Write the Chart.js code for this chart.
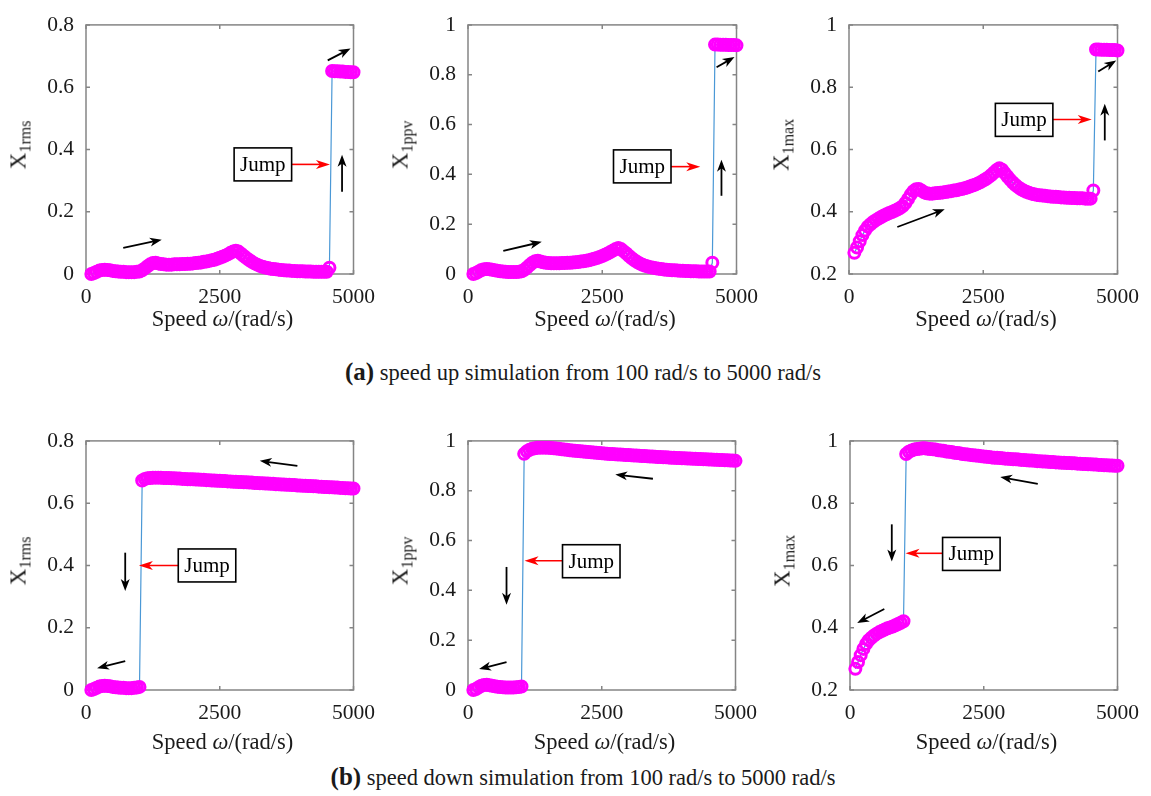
<!DOCTYPE html>
<html>
<head>
<meta charset="utf-8">
<script src="https://cdn.jsdelivr.net/npm/chart.js@4.4.0/dist/chart.umd.min.js"></script>
<style>
  html, body { margin: 0; background: #fff; }
  #fig { position: relative; width: 1151px; height: 796px; overflow: hidden;
         font-family: "Liberation Serif", "DejaVu Serif", "Noto Serif", Times, serif; color: #1a1a1a; }
  #fig canvas { position: absolute; }
  .ylab { position: absolute; font-size: 23px; line-height: 1; white-space: nowrap;
          transform: translate(-50%, -50%) rotate(-90deg); }
  .ylab sub { font-size: 16px; vertical-align: -5px; }
  .xlab { position: absolute; font-size: 22.5px; line-height: 1; white-space: nowrap;
          transform: translate(-50%, -50%); }
  .caption { position: absolute; left: 583px; font-size: 22.5px; line-height: 1; white-space: nowrap;
             transform: translate(-50%, -50%); }
  .caption b { font-size: 25px; }
</style>
</head>
<body>
<div id="fig">
  <div class="caption" style="top:372px"><b>(a)</b> speed up simulation from 100 rad/s to 5000 rad/s</div>
  <div class="caption" style="top:777px"><b>(b)</b> speed down simulation from 100 rad/s to 5000 rad/s</div>
</div>
<script>
// sweep speeds (rad/s)
const speeds = [
  100, 150, 200, 250, 300, 350, 400, 450, 500, 550,
  600, 650, 700, 750, 800, 850, 900, 950, 1000, 1050,
  1100, 1150, 1200, 1250, 1300, 1350, 1400, 1450, 1500, 1550,
  1600, 1650, 1700, 1750, 1800, 1850, 1900, 1950, 2000, 2050,
  2100, 2150, 2200, 2250, 2300, 2350, 2400, 2450, 2500, 2550,
  2600, 2650, 2700, 2750, 2800, 2850, 2900, 2950, 3000, 3050,
  3100, 3150, 3200, 3250, 3300, 3350, 3400, 3450, 3500, 3550,
  3600, 3650, 3700, 3750, 3800, 3850, 3900, 3950, 4000, 4050,
  4100, 4150, 4200, 4250, 4300, 4350, 4400, 4450, 4500, 4550,
  4600, 4650, 4700, 4750, 4800, 4850, 4900, 4950, 5000
];

// speed up
const rmsUp = [
  0.000, 0.003, 0.007, 0.011, 0.013, 0.014, 0.013, 0.012, 0.010, 0.009,
  0.008, 0.007, 0.007, 0.006, 0.006, 0.006, 0.006, 0.007, 0.008, 0.012,
  0.018, 0.025, 0.031, 0.035, 0.036, 0.034, 0.032, 0.031, 0.030, 0.030,
  0.030, 0.031, 0.031, 0.031, 0.032, 0.032, 0.033, 0.033, 0.034, 0.035,
  0.036, 0.037, 0.039, 0.040, 0.042, 0.044, 0.046, 0.049, 0.052, 0.055,
  0.059, 0.063, 0.068, 0.072, 0.075, 0.072, 0.065, 0.058, 0.051, 0.045,
  0.039, 0.034, 0.030, 0.026, 0.023, 0.021, 0.019, 0.017, 0.016, 0.015,
  0.014, 0.013, 0.012, 0.011, 0.011, 0.010, 0.010, 0.009, 0.009, 0.009,
  0.008, 0.008, 0.008, 0.007, 0.007, 0.007, 0.007, 0.007, 0.007, 0.020,
  0.652, 0.651, 0.651, 0.650, 0.650, 0.649, 0.649, 0.648, 0.648
];
const ppvUp = [
  0.000, 0.004, 0.010, 0.016, 0.019, 0.020, 0.019, 0.017, 0.015, 0.013,
  0.011, 0.010, 0.009, 0.008, 0.008, 0.008, 0.008, 0.009, 0.011, 0.017,
  0.026, 0.036, 0.045, 0.051, 0.053, 0.050, 0.047, 0.045, 0.044, 0.043,
  0.043, 0.043, 0.043, 0.044, 0.044, 0.045, 0.045, 0.046, 0.047, 0.048,
  0.050, 0.051, 0.053, 0.055, 0.058, 0.061, 0.064, 0.068, 0.072, 0.077,
  0.082, 0.088, 0.094, 0.100, 0.104, 0.100, 0.091, 0.082, 0.072, 0.063,
  0.055, 0.048, 0.042, 0.037, 0.033, 0.030, 0.027, 0.025, 0.023, 0.021,
  0.020, 0.018, 0.017, 0.016, 0.015, 0.015, 0.014, 0.013, 0.013, 0.012,
  0.012, 0.011, 0.011, 0.011, 0.010, 0.010, 0.010, 0.010, 0.010, 0.045,
  0.921, 0.921, 0.920, 0.920, 0.920, 0.919, 0.919, 0.919, 0.918
];
const maxUp = [
  0.268, 0.285, 0.305, 0.325, 0.340, 0.352, 0.360, 0.367, 0.373, 0.378,
  0.383, 0.388, 0.392, 0.396, 0.399, 0.403, 0.407, 0.412, 0.418, 0.428,
  0.441, 0.455, 0.466, 0.472, 0.473, 0.468, 0.462, 0.459, 0.458, 0.458,
  0.459, 0.460, 0.461, 0.462, 0.463, 0.465, 0.466, 0.468, 0.469, 0.471,
  0.473, 0.475, 0.478, 0.481, 0.484, 0.487, 0.491, 0.495, 0.500, 0.505,
  0.511, 0.518, 0.526, 0.534, 0.540, 0.535, 0.524, 0.513, 0.503, 0.494,
  0.486, 0.479, 0.473, 0.468, 0.464, 0.461, 0.458, 0.456, 0.454, 0.453,
  0.452, 0.451, 0.450, 0.449, 0.448, 0.448, 0.447, 0.446, 0.446, 0.445,
  0.445, 0.444, 0.444, 0.443, 0.443, 0.443, 0.442, 0.442, 0.442, 0.468,
  0.921, 0.921, 0.920, 0.920, 0.920, 0.919, 0.919, 0.919, 0.918
];

// speed down
const rmsDown = [
  0.000, 0.003, 0.007, 0.011, 0.013, 0.014, 0.013, 0.012, 0.010, 0.009,
  0.008, 0.007, 0.007, 0.006, 0.006, 0.006, 0.007, 0.008, 0.010, 0.673,
  0.678, 0.680, 0.681, 0.682, 0.682, 0.682, 0.682, 0.681, 0.681, 0.681,
  0.680, 0.680, 0.679, 0.679, 0.678, 0.678, 0.677, 0.677, 0.677, 0.676,
  0.676, 0.675, 0.675, 0.674, 0.674, 0.673, 0.673, 0.672, 0.672, 0.671,
  0.671, 0.670, 0.670, 0.669, 0.669, 0.668, 0.668, 0.667, 0.667, 0.666,
  0.666, 0.665, 0.665, 0.664, 0.664, 0.663, 0.663, 0.662, 0.662, 0.661,
  0.661, 0.660, 0.660, 0.659, 0.659, 0.658, 0.658, 0.657, 0.657, 0.656,
  0.656, 0.655, 0.655, 0.654, 0.654, 0.653, 0.653, 0.652, 0.652, 0.651,
  0.651, 0.650, 0.650, 0.649, 0.649, 0.648, 0.648, 0.647, 0.647
];
const ppvDown = [
  0.000, 0.004, 0.011, 0.017, 0.020, 0.021, 0.019, 0.017, 0.015, 0.013,
  0.012, 0.011, 0.010, 0.010, 0.010, 0.010, 0.011, 0.012, 0.014, 0.948,
  0.958, 0.964, 0.968, 0.970, 0.972, 0.973, 0.973, 0.973, 0.972, 0.971,
  0.970, 0.969, 0.968, 0.966, 0.965, 0.964, 0.962, 0.961, 0.960, 0.959,
  0.958, 0.957, 0.956, 0.955, 0.954, 0.953, 0.952, 0.951, 0.950, 0.949,
  0.948, 0.947, 0.947, 0.946, 0.945, 0.945, 0.944, 0.943, 0.943, 0.942,
  0.941, 0.941, 0.940, 0.939, 0.939, 0.938, 0.937, 0.937, 0.936, 0.935,
  0.935, 0.934, 0.934, 0.933, 0.932, 0.932, 0.931, 0.931, 0.930, 0.930,
  0.929, 0.929, 0.928, 0.928, 0.927, 0.927, 0.926, 0.926, 0.925, 0.925,
  0.924, 0.924, 0.923, 0.923, 0.922, 0.922, 0.921, 0.921, 0.920
];
const maxDown = [
  0.268, 0.290, 0.312, 0.332, 0.348, 0.360, 0.368, 0.375, 0.381, 0.386,
  0.390, 0.394, 0.398, 0.401, 0.404, 0.408, 0.412, 0.416, 0.421, 0.958,
  0.965, 0.969, 0.972, 0.974, 0.975, 0.976, 0.976, 0.975, 0.974, 0.973,
  0.972, 0.970, 0.969, 0.968, 0.966, 0.965, 0.964, 0.962, 0.961, 0.960,
  0.958, 0.957, 0.956, 0.955, 0.954, 0.953, 0.952, 0.951, 0.950, 0.949,
  0.948, 0.947, 0.946, 0.946, 0.945, 0.944, 0.943, 0.943, 0.942, 0.941,
  0.941, 0.940, 0.939, 0.939, 0.938, 0.937, 0.937, 0.936, 0.935, 0.935,
  0.934, 0.934, 0.933, 0.932, 0.932, 0.931, 0.931, 0.930, 0.930, 0.929,
  0.929, 0.928, 0.928, 0.927, 0.927, 0.926, 0.926, 0.925, 0.925, 0.924,
  0.924, 0.923, 0.923, 0.922, 0.922, 0.921, 0.921, 0.920, 0.920
];

const xTicks = [0, 2500, 5000];
const yTicksRms = [0, 0.2, 0.4, 0.6, 0.8];
const yTicksPpv = [0, 0.2, 0.4, 0.6, 0.8, 1];
const yTicksMax = [0.2, 0.4, 0.6, 0.8, 1];

// panel layout (px) and annotations (axis units)
const panels = [
  { values: rmsUp, sub: '1rms', yTicks: yTicksRms, left: 86, right: 359, top: 15, bottom: 274, titleY: 319,
    box: [3306, 0.352], jump: [3830, 0.352, 4560, 0.352],
    moves: [[4786, 0.264, 4786, 0.383], [4518, 0.686, 4945, 0.724], [696, 0.084, 1416, 0.110]] },
  { values: ppvUp, sub: '1ppv', yTicks: yTicksPpv, left: 468, right: 742, top: 15, bottom: 274, titleY: 319,
    box: [3245, 0.432], jump: [3748, 0.431, 4325, 0.431],
    moves: [[4720, 0.314, 4720, 0.459], [4629, 0.830, 4963, 0.871], [657, 0.093, 1374, 0.129]] },
  { values: maxUp, sub: '1max', yTicks: yTicksMax, left: 849, right: 1123, top: 15, bottom: 274, titleY: 319,
    box: [3261, 0.695], jump: [3777, 0.696, 4520, 0.696],
    moves: [[4763, 0.629, 4763, 0.747], [4641, 0.850, 4976, 0.886], [900, 0.351, 1783, 0.408]] },
  { values: rmsDown, sub: '1rms', yTicks: yTicksRms, left: 86, right: 359, top: 431, bottom: 690, titleY: 742,
    box: [2262, 0.400], jump: [1753, 0.400, 989, 0.400],
    moves: [[733, 0.441, 733, 0.318], [3951, 0.720, 3248, 0.736], [733, 0.093, 207, 0.070]] },
  { values: ppvDown, sub: '1ppv', yTicks: yTicksPpv, left: 468, right: 741, top: 431, bottom: 690, titleY: 742,
    box: [2304, 0.517], jump: [1795, 0.519, 1057, 0.519],
    moves: [[720, 0.494, 720, 0.342], [3456, 0.848, 2753, 0.865], [720, 0.112, 207, 0.084]] },
  { values: maxDown, sub: '1max', yTicks: yTicksMax, left: 850, right: 1123, top: 431, bottom: 690, titleY: 742,
    box: [2268, 0.637], jump: [1758, 0.639, 1038, 0.639],
    moves: [[781, 0.732, 781, 0.613], [3510, 0.862, 2808, 0.884], [641, 0.460, 134, 0.415]] }
];

const PAD_L = 86, PAD_T = 15, PAD_R = 26, PAD_B = 45;
const SERIF = '"Liberation Serif", "DejaVu Serif", "Noto Serif", Times, serif';
const tickFont = { family: SERIF, size: 21.5 };
const fig = document.getElementById('fig');

function arrow(ctx, x1, y1, x2, y2, color, width, len, half) {
  const a = Math.atan2(y2 - y1, x2 - x1);
  const ux = Math.cos(a), uy = Math.sin(a);
  const bx = x2 - ux * len, by = y2 - uy * len;
  ctx.strokeStyle = color;
  ctx.fillStyle = color;
  ctx.lineWidth = width;
  ctx.beginPath();
  ctx.moveTo(x1, y1);
  ctx.lineTo(x2 - ux * len * 0.6, y2 - uy * len * 0.6);
  ctx.stroke();
  ctx.beginPath();
  ctx.moveTo(x2, y2);
  ctx.lineTo(bx - uy * half, by + ux * half);
  ctx.lineTo(x2 - ux * len * 0.72, y2 - uy * len * 0.72);
  ctx.lineTo(bx + uy * half, by - ux * half);
  ctx.closePath();
  ctx.fill();
}

function decor(p) {
  return {
    id: 'decor',
    // axes box with inward ticks on all four sides
    beforeDatasetsDraw(chart) {
      const { ctx, chartArea: a, scales: { x, y } } = chart;
      ctx.save();
      ctx.strokeStyle = '#858585';
      ctx.lineWidth = 1.5;
      ctx.strokeRect(a.left, a.top, a.right - a.left, a.bottom - a.top);
      ctx.beginPath();
      x.ticks.forEach(t => {
        const px = x.getPixelForValue(t.value);
        ctx.moveTo(px, a.bottom); ctx.lineTo(px, a.bottom - 4);
        ctx.moveTo(px, a.top); ctx.lineTo(px, a.top + 4);
      });
      y.ticks.forEach(t => {
        const py = y.getPixelForValue(t.value);
        ctx.moveTo(a.left, py); ctx.lineTo(a.left + 4, py);
        ctx.moveTo(a.right, py); ctx.lineTo(a.right - 4, py);
      });
      ctx.stroke();
      ctx.restore();
    },
    // direction arrows, jump arrow and label box
    afterDatasetsDraw(chart) {
      const { ctx, scales: { x, y } } = chart;
      ctx.save();
      p.moves.forEach(m => {
        arrow(ctx, x.getPixelForValue(m[0]), y.getPixelForValue(m[1]),
              x.getPixelForValue(m[2]), y.getPixelForValue(m[3]), '#000', 1.8, 12, 4.5);
      });
      const j = p.jump;
      arrow(ctx, x.getPixelForValue(j[0]), y.getPixelForValue(j[1]),
            x.getPixelForValue(j[2]), y.getPixelForValue(j[3]), '#ff0000', 1.6, 14, 4.5);
      ctx.font = '21px ' + SERIF;
      const tw = ctx.measureText('Jump').width;
      const bw = tw + 12, bh = 33;
      const cx = x.getPixelForValue(p.box[0]), cy = y.getPixelForValue(p.box[1]);
      ctx.fillStyle = '#fff';
      ctx.fillRect(cx - bw / 2, cy - bh / 2, bw, bh);
      ctx.strokeStyle = '#000';
      ctx.lineWidth = 1.6;
      ctx.strokeRect(cx - bw / 2, cy - bh / 2, bw, bh);
      ctx.fillStyle = '#000';
      ctx.textAlign = 'center';
      ctx.textBaseline = 'middle';
      ctx.fillText('Jump', cx, cy + 1);
      ctx.restore();
    }
  };
}

panels.forEach(p => {
  const canvas = document.createElement('canvas');
  canvas.width = p.right - p.left + PAD_L + PAD_R;
  canvas.height = p.bottom - p.top + PAD_T + PAD_B;
  canvas.style.left = (p.left - PAD_L) + 'px';
  canvas.style.top = (p.top - PAD_T) + 'px';
  fig.appendChild(canvas);

  const ylab = document.createElement('div');
  ylab.className = 'ylab';
  ylab.innerHTML = 'X<sub>' + p.sub + '</sub>';
  ylab.style.left = (p.left - 66) + 'px';
  ylab.style.top = ((p.top + p.bottom) / 2) + 'px';
  fig.appendChild(ylab);

  const xlab = document.createElement('div');
  xlab.className = 'xlab';
  xlab.innerHTML = 'Speed <i>\u03c9</i>/(rad/s)';
  xlab.style.left = ((p.left + p.right) / 2) + 'px';
  xlab.style.top = p.titleY + 'px';
  fig.appendChild(xlab);

  new Chart(canvas, {
    type: 'line',
    data: {
      datasets: [{
        data: speeds.map((s, i) => ({ x: s, y: p.values[i] })),
        showLine: true,
        borderColor: '#4a98d6',
        borderWidth: 1.2,
        tension: 0,
        fill: false,
        pointStyle: 'circle',
        pointRadius: 5.5,
        pointBorderWidth: 3,
        pointBorderColor: '#ff00ff',
        pointBackgroundColor: 'rgba(255,255,255,0)',
        clip: false
      }]
    },
    options: {
      responsive: false,
      animation: false,
      devicePixelRatio: 1,
      events: [],
      layout: { padding: { left: 0, top: PAD_T, right: PAD_R, bottom: 0 } },
      plugins: { legend: { display: false }, tooltip: { enabled: false } },
      scales: {
        x: {
          type: 'linear', min: 0, max: 5000,
          grid: { display: false, drawTicks: false },
          border: { display: false },
          afterBuildTicks: s => { s.ticks = xTicks.map(v => ({ value: v })); },
          afterFit: s => { s.height = PAD_B; },
          ticks: { padding: 10, font: tickFont, color: '#1a1a1a', maxRotation: 0, autoSkip: false,
                   callback: v => String(v) }
        },
        y: {
          type: 'linear', min: p.yTicks[0], max: p.yTicks[p.yTicks.length - 1],
          grid: { display: false, drawTicks: false },
          border: { display: false },
          afterBuildTicks: s => { s.ticks = p.yTicks.map(v => ({ value: v })); },
          afterFit: s => { s.width = PAD_L; },
          ticks: { padding: 12, font: tickFont, color: '#1a1a1a', autoSkip: false,
                   callback: v => String(v) }
        }
      }
    },
    plugins: [decor(p)]
  });
});
</script>
</body>
</html>
